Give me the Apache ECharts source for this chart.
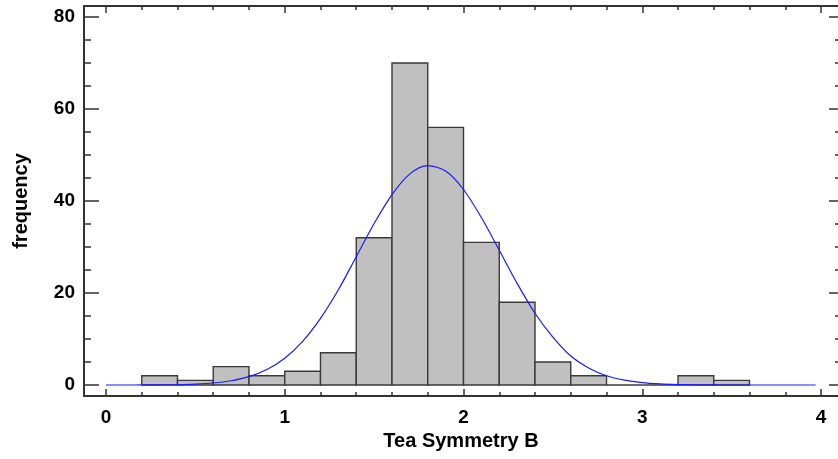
<!DOCTYPE html>
<html>
<head>
<meta charset="utf-8">
<script src="https://cdn.jsdelivr.net/npm/echarts@6/dist/echarts.min.js"></script>
<style>
html,body{margin:0;padding:0;background:#fff;}
#chart{width:838px;height:459px;}
</style>
</head>
<body>
<div id="chart"></div>
<script>
// ---- data ----
var binStarts = [0.2, 0.4, 0.6, 0.8, 1.0, 1.2, 1.4, 1.6, 1.8, 2.0, 2.2, 2.4, 2.6, 2.8, 3.0, 3.2, 3.4];
var binWidth = 0.2;
var counts = [2, 1, 4, 2, 3, 7, 32, 70, 56, 31, 18, 5, 2, 0, 0, 2, 1];

var curveX = [0.0, 0.1, 0.2, 0.3, 0.4, 0.5, 0.6, 0.7, 0.8, 0.9, 1.0, 1.1, 1.2, 1.3, 1.4, 1.5, 1.6, 1.7, 1.8, 1.9,
              2.0, 2.1, 2.2, 2.3, 2.4, 2.5, 2.6, 2.7, 2.8, 2.9, 3.0, 3.1, 3.2, 3.3, 3.4, 3.5, 3.6, 3.7, 3.8, 3.97];
var curveY = [0.00, 0.00, 0.01, 0.03, 0.08, 0.20, 0.44, 0.92, 1.81, 3.35, 5.82, 9.5, 14.5, 20.7, 27.9, 35.1, 41.4, 45.9, 47.7, 46.5,
              42.5, 36.4, 29.3, 22.1, 15.6, 10.4, 6.3, 3.7, 2.0, 1.05, 0.5, 0.23, 0.1, 0.04, 0.01, 0.0, 0.0, 0.0, 0.0, 0.0];

var xMajor = [0, 1, 2, 3, 4];
var xMinor = [0.2, 0.4, 0.6, 0.8, 1.2, 1.4, 1.6, 1.8, 2.2, 2.4, 2.6, 2.8, 3.2, 3.4, 3.6, 3.8];
var yMajor = [0, 20, 40, 60, 80];
var yMinor = [5, 10, 15, 25, 30, 35, 45, 50, 55, 65, 70, 75];
var xRange = [-0.123, 4.095];
var yRange = [-2.391, 82.391];
var xTitle = 'Tea Symmetry B';
var yTitle = 'frequency';

// ---- build ----
var barData = binStarts.map(function (s, i) { return [s, s + binWidth, counts[i]]; });
var lineData = curveX.map(function (x, i) { return [x, curveY[i]]; });

var FONT = '"Liberation Sans", Arial, sans-serif';
var tickColor = '#333';
var labelStyle = { color: '#000', fontFamily: FONT, fontWeight: 'bold', fontSize: 19 };
var nameStyle = { color: '#000', fontFamily: FONT, fontWeight: 'bold', fontSize: 20 };

function xAx(pos, ticks, len, showLine, showLabel) {
  var a = {
    type: 'value', position: pos, min: xRange[0], max: xRange[1],
    axisLine: { show: showLine, onZero: false, lineStyle: { color: '#333', width: 2 } },
    axisTick: { show: true, inside: true, length: len, customValues: ticks, lineStyle: { color: tickColor, width: 1.5 } },
    splitLine: { show: false },
    axisLabel: { show: false }
  };
  if (showLabel) {
    a.axisLabel = Object.assign({ show: true, margin: 12, customValues: ticks }, labelStyle);
    a.name = xTitle; a.nameLocation = 'middle'; a.nameGap = 34; a.nameTextStyle = nameStyle;
  }
  return a;
}
function yAx(pos, ticks, len, showLine, showLabel) {
  var a = {
    type: 'value', position: pos, min: yRange[0], max: yRange[1],
    axisLine: { show: showLine, onZero: false, lineStyle: { color: '#333', width: 2 } },
    axisTick: { show: true, inside: true, length: len, customValues: ticks, lineStyle: { color: tickColor, width: 1.5 } },
    splitLine: { show: false },
    axisLabel: { show: false }
  };
  if (showLabel) {
    a.axisLabel = Object.assign({ show: true, margin: 9, customValues: ticks }, labelStyle);
    a.name = yTitle; a.nameLocation = 'middle'; a.nameGap = 53; a.nameRotate = 90; a.nameTextStyle = nameStyle;
  }
  return a;
}

var chart = echarts.init(document.getElementById('chart'), null, { renderer: 'canvas' });
chart.setOption({
  animation: false,
  backgroundColor: '#fff',
  grid: { left: 84, top: 6, right: 0, bottom: 63 },
  xAxis: [
    xAx('bottom', xMajor, 7, true, true),
    xAx('bottom', xMinor, 4, false, false),
    xAx('top', xMajor, 7, true, false),
    xAx('top', xMinor, 4, false, false)
  ],
  yAxis: [
    yAx('left', yMajor, 15, true, true),
    yAx('left', yMinor, 7, false, false),
    yAx('right', yMajor, 9, false, false),
    yAx('right', yMinor, 3, false, false)
  ],
  series: [
    {
      type: 'custom',
      xAxisIndex: 0, yAxisIndex: 0,
      data: barData,
      z: 2,
      renderItem: function (params, api) {
        var p0 = api.coord([api.value(0), 0]);
        var p1 = api.coord([api.value(1), api.value(2)]);
        return {
          type: 'rect',
          shape: { x: p0[0], y: p1[1], width: p1[0] - p0[0], height: p0[1] - p1[1] },
          style: { fill: '#c0c0c0', stroke: '#3a3a3a', lineWidth: 1.4 }
        };
      }
    },
    {
      type: 'line',
      xAxisIndex: 0, yAxisIndex: 0,
      data: lineData,
      smooth: 0.3,
      showSymbol: false,
      z: 5,
      lineStyle: { color: '#1a1aff', width: 1.2 }
    }
  ]
});
</script>
</body>
</html>
